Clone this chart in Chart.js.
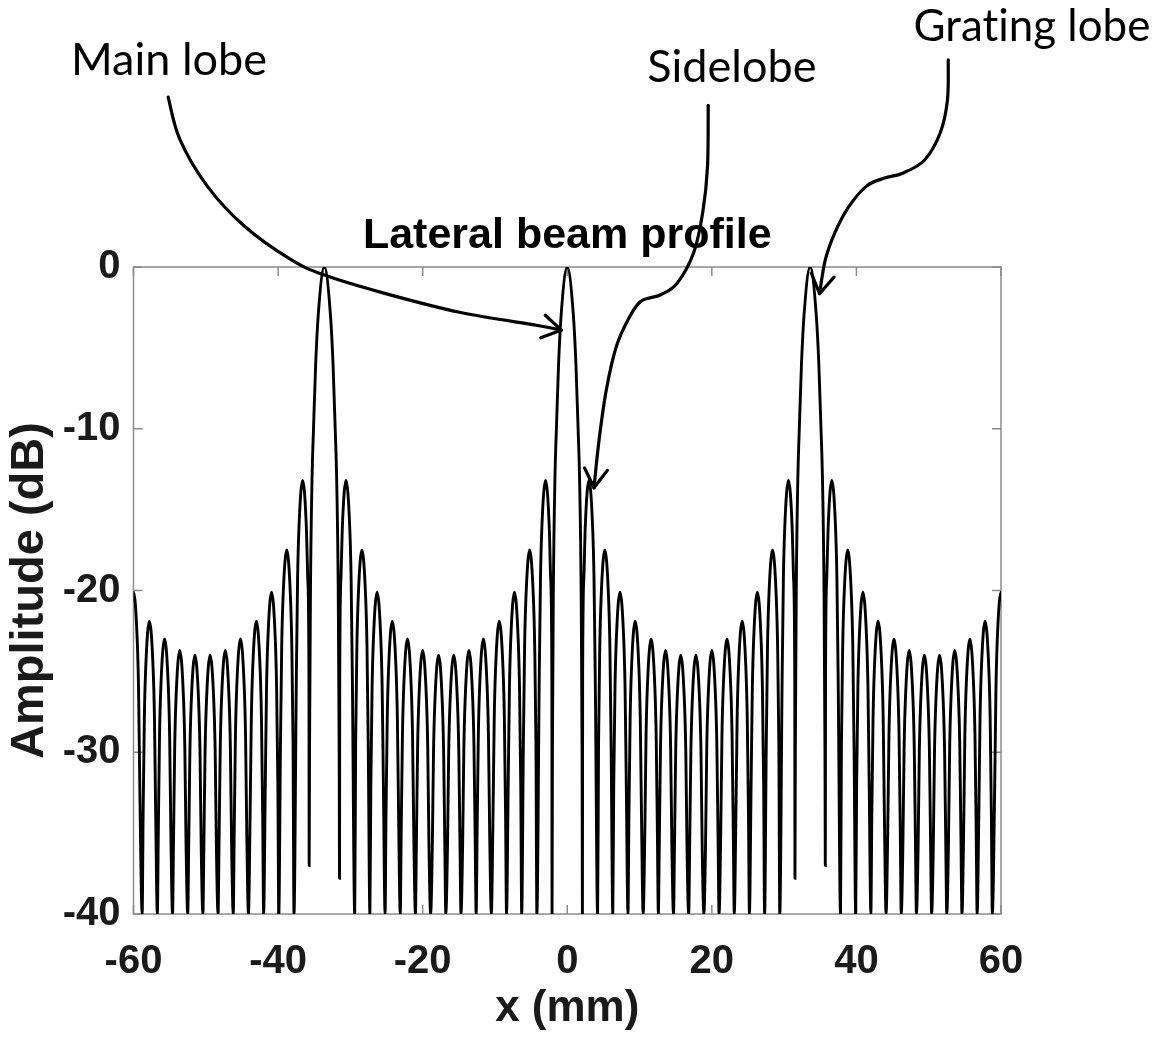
<!DOCTYPE html>
<html>
<head>
<meta charset="utf-8">
<title>Lateral beam profile</title>
<script src="https://cdn.jsdelivr.net/npm/chart.js@4.4.0/dist/chart.umd.min.js"></script>
<style>
  html, body { margin: 0; padding: 0; background: #fff; }
  canvas { display: block; }
</style>
</head>
<body>
<canvas id="beam" width="1163" height="1040"></canvas>
<script>
// lobe peaks, left to right: position (mm) and level (dB)
var peakMm = [-60.0, -57.8, -55.7, -53.6, -51.5, -49.4, -47.3, -45.2, -43.0, -40.9, -38.8, -36.6,
  -33.6,
  -30.6, -28.4, -26.3, -24.2, -22.1, -20.0, -17.8, -15.7, -13.6, -11.6, -9.4, -7.3, -5.2, -3.0,
  0.0,
  3.0, 5.2, 7.3, 9.4, 11.6, 13.6, 15.7, 17.8, 20.0, 22.1, 24.2, 26.3, 28.4, 30.6,
  33.6,
  36.6, 38.8, 40.9, 43.0, 45.2, 47.3, 49.4, 51.5, 53.6, 55.7, 57.8, 60.0];
var peakDb = [-20.1, -21.9, -23.0, -23.7, -24.0, -24.0, -23.7, -23.0, -21.9, -20.1, -17.5, -13.2,
  0,
  -13.2, -17.5, -20.1, -21.9, -23.0, -23.7, -24.0, -24.0, -23.7, -23.0, -21.9, -20.1, -17.5, -13.2,
  0,
  -13.2, -17.5, -20.1, -21.9, -23.0, -23.7, -24.0, -24.0, -23.7, -23.0, -21.9, -20.1, -17.5, -13.2,
  0,
  -13.2, -17.5, -20.1, -21.9, -23.0, -23.7, -24.0, -24.0, -23.7, -23.0, -21.9, -20.1];

// nulls between lobes: position (mm) and the lowest level the trace reaches (dB)
var nullMm = [-58.8, -56.7, -54.6, -52.5, -50.4, -48.3, -46.2, -44.1, -42.0, -39.9, -37.8, -35.7,
  -31.5, -29.4, -27.3, -25.2, -23.1, -21.0, -18.9, -16.8, -14.7, -12.6, -10.5, -8.4, -6.3, -4.2, -2.1,
  2.1, 4.2, 6.3, 8.4, 10.5, 12.6, 14.7, 16.8, 18.9, 21.0, 23.1, 25.2, 27.3, 29.4, 31.5,
  35.7, 37.8, 39.9, 42.0, 44.1, 46.2, 48.3, 50.4, 52.5, 54.6, 56.7, 58.8];
var nullDb = [-40, -40, -40, -40, -40, -40, -40, -40, -40, -40, -40, -37.0,
  -37.8, -40, -40, -40, -40, -40, -40, -40, -40, -40, -40, -40, -40, -40, -40,
  -40, -40, -40, -40, -40, -40, -40, -40, -40, -40, -40, -40, -40, -40, -37.8,
  -37.0, -40, -40, -40, -40, -40, -40, -40, -40, -40, -40, -40];

// main lobe shape: level below the peak (dB) and half-width there (mm)
var mainDrop = [3, 6, 10, 13, 20, 30];
var mainHalfWidth = [0.85, 1.2, 1.5, 1.7, 1.92, 2.05];
// side lobe shape, same layout
var sideDrop = [3, 6, 12];
var sideHalfWidth = [0.52, 0.7, 0.87];

var xTicks = [-60, -40, -20, 0, 20, 40, 60];
var yTicks = [-40, -30, -20, -10, 0];

// labelled arrows, traced as [mm, dB] from the label down to the tip
var notes = [
  { text: "Main lobe", at: [-68.65, 11.9], width: 196,
    path: [[-55.2, 10.5], [-53.6, 7.9], [-49.8, 5.0], [-44.6, 2.5], [-38.2, 0.45], [-33.6, -0.5],
           [-25.5, -1.6], [-14.9, -2.8], [-4.3, -3.6], [-0.8, -3.9]] },
  { text: "Sidelobe", at: [11.07, 11.45], width: 169,
    path: [[19.5, 10.0], [19.4, 6.2], [18.75, 3.4], [17.5, 0.9], [15.2, -1.0], [13.0, -1.7],
           [11.5, -1.9], [10.1, -2.15], [8.6, -3.1], [6.8, -4.9], [5.4, -7.6], [4.4, -10.7], [3.7, -13.65]] },
  { text: "Grating lobe", at: [47.9, 13.95], width: 237,
    path: [[52.7, 12.8], [52.6, 10.35], [51.6, 8.3], [49.4, 6.6], [46.4, 5.8], [43.9, 5.5],
           [41.4, 5.0], [38.9, 3.7], [37.0, 2.1], [35.7, 0.45], [34.9, -1.65]] }
];

var axisFont = "'Liberation Sans', Arial, sans-serif";
var noteFont = "Lato, 'Open Sans', sans-serif";

// trace points: nulls, peaks and the lobe flanks
function addFlanks(pts, centre, level, drops, halfWidths) {
  for (var k = 0; k < drops.length; k++) {
    pts.push({ x: centre - halfWidths[k], y: level - drops[k] });
    pts.push({ x: centre + halfWidths[k], y: level - drops[k] });
  }
}

var points = [];
for (var i = 0; i < nullMm.length; i++) {
  points.push({ x: nullMm[i], y: nullDb[i] });
}
for (var j = 0; j < peakMm.length; j++) {
  points.push({ x: peakMm[j], y: peakDb[j] });
  if (peakDb[j] === 0) {
    addFlanks(points, peakMm[j], peakDb[j], mainDrop, mainHalfWidth);
  } else {
    addFlanks(points, peakMm[j], peakDb[j], sideDrop, sideHalfWidth);
  }
}
points.sort(function (a, b) { return a.x - b.x; });

function line(ctx, x1, y1, x2, y2) {
  ctx.beginPath();
  ctx.moveTo(x1, y1);
  ctx.lineTo(x2, y2);
  ctx.stroke();
}

// box round the plot with inward tick marks on all four sides
var boxPlugin = {
  id: "box",
  beforeDatasetsDraw: function (chart) {
    var ctx = chart.ctx, a = chart.chartArea;
    var xs = chart.scales.x, ys = chart.scales.y;
    ctx.save();
    ctx.strokeStyle = "#8c8c8c";
    ctx.lineWidth = 1.5;
    ctx.strokeRect(a.left, a.top, a.right - a.left, a.bottom - a.top);
    xTicks.forEach(function (t) {
      var px = xs.getPixelForValue(t);
      line(ctx, px, a.bottom, px, a.bottom - 9);
      line(ctx, px, a.top, px, a.top + 9);
    });
    yTicks.forEach(function (t) {
      var py = ys.getPixelForValue(t);
      line(ctx, a.left, py, a.left + 9, py);
      line(ctx, a.right, py, a.right - 9, py);
    });
    ctx.restore();
  }
};

function smoothPath(ctx, pts) {
  ctx.moveTo(pts[0].x, pts[0].y);
  for (var i = 0; i < pts.length - 1; i++) {
    var p0 = pts[i - 1] || pts[i], p1 = pts[i], p2 = pts[i + 1], p3 = pts[i + 2] || p2;
    ctx.bezierCurveTo(
      p1.x + (p2.x - p0.x) / 6, p1.y + (p2.y - p0.y) / 6,
      p2.x - (p3.x - p1.x) / 6, p2.y - (p3.y - p1.y) / 6,
      p2.x, p2.y);
  }
}

// title over the plot, plus the three labels with their arrows
var notesPlugin = {
  id: "notes",
  afterDraw: function (chart) {
    var ctx = chart.ctx, a = chart.chartArea;
    var xs = chart.scales.x, ys = chart.scales.y;
    ctx.save();

    ctx.fillStyle = "#000";
    ctx.font = "bold 43px " + axisFont;
    ctx.textAlign = "center";
    ctx.textBaseline = "alphabetic";
    ctx.fillText("Lateral beam profile", (a.left + a.right) / 2, a.top - 19);

    // a tiny letter spacing keeps Lato from joining "ti"
    ctx.letterSpacing = "0.01px";
    notes.forEach(function (n) {
      ctx.font = "100px " + noteFont;
      var size = 100 * n.width / ctx.measureText(n.text).width;
      ctx.font = size.toFixed(1) + "px " + noteFont;
      ctx.textAlign = "left";
      ctx.fillText(n.text, xs.getPixelForValue(n.at[0]), ys.getPixelForValue(n.at[1]));

      var pts = n.path.map(function (q) {
        return { x: xs.getPixelForValue(q[0]), y: ys.getPixelForValue(q[1]) };
      });
      ctx.strokeStyle = "#000";
      ctx.lineWidth = 3.2;
      ctx.lineCap = "round";
      ctx.lineJoin = "round";
      ctx.beginPath();
      smoothPath(ctx, pts);
      ctx.stroke();

      // arrow head
      var tip = pts[pts.length - 1], prev = pts[pts.length - 2];
      var ang = Math.atan2(tip.y - prev.y, tip.x - prev.x);
      var len = 22, spread = 0.55;
      ctx.beginPath();
      ctx.moveTo(tip.x - len * Math.cos(ang - spread), tip.y - len * Math.sin(ang - spread));
      ctx.lineTo(tip.x, tip.y);
      ctx.lineTo(tip.x - len * Math.cos(ang + spread), tip.y - len * Math.sin(ang + spread));
      ctx.stroke();
    });
    ctx.restore();
  }
};

var ctx = document.getElementById("beam").getContext("2d");

new Chart(ctx, {
  type: "line",
  data: {
    datasets: [{
      data: points,
      borderColor: "#000",
      borderWidth: 2.9,
      pointRadius: 0,
      fill: false,
      cubicInterpolationMode: "monotone"
    }]
  },
  options: {
    responsive: false,
    animation: false,
    devicePixelRatio: 1,
    layout: { padding: { top: 267, right: 162, bottom: 0, left: 0 } },
    plugins: {
      legend: { display: false },
      tooltip: { enabled: false },
      title: { display: false }
    },
    scales: {
      x: {
        type: "linear",
        min: -60,
        max: 60,
        afterBuildTicks: function (s) { s.ticks = xTicks.map(function (t) { return { value: t }; }); },
        afterFit: function (s) { s.height = 126; },
        grid: { display: false, drawTicks: false },
        border: { display: false },
        ticks: {
          autoSkip: false,
          maxRotation: 0,
          padding: 24,
          color: "#1a1a1a",
          font: { family: axisFont, size: 40, weight: "bold" }
        },
        title: {
          display: true,
          text: "x (mm)",
          color: "#1a1a1a",
          padding: { top: 0, bottom: 5 },
          font: { family: axisFont, size: 44, weight: "bold" }
        }
      },
      y: {
        type: "linear",
        min: -40,
        max: 0,
        afterBuildTicks: function (s) { s.ticks = yTicks.map(function (t) { return { value: t }; }); },
        afterFit: function (s) { s.width = 133.5; },
        grid: { display: false, drawTicks: false },
        border: { display: false },
        ticks: {
          padding: 13,
          color: "#1a1a1a",
          font: { family: axisFont, size: 40, weight: "bold" }
        },
        title: {
          display: true,
          text: "Amplitude (dB)",
          color: "#1a1a1a",
          padding: { top: 2, bottom: 0 },
          font: { family: axisFont, size: 47, weight: "bold" }
        }
      }
    }
  },
  plugins: [boxPlugin, notesPlugin]
});
</script>
</body>
</html>
